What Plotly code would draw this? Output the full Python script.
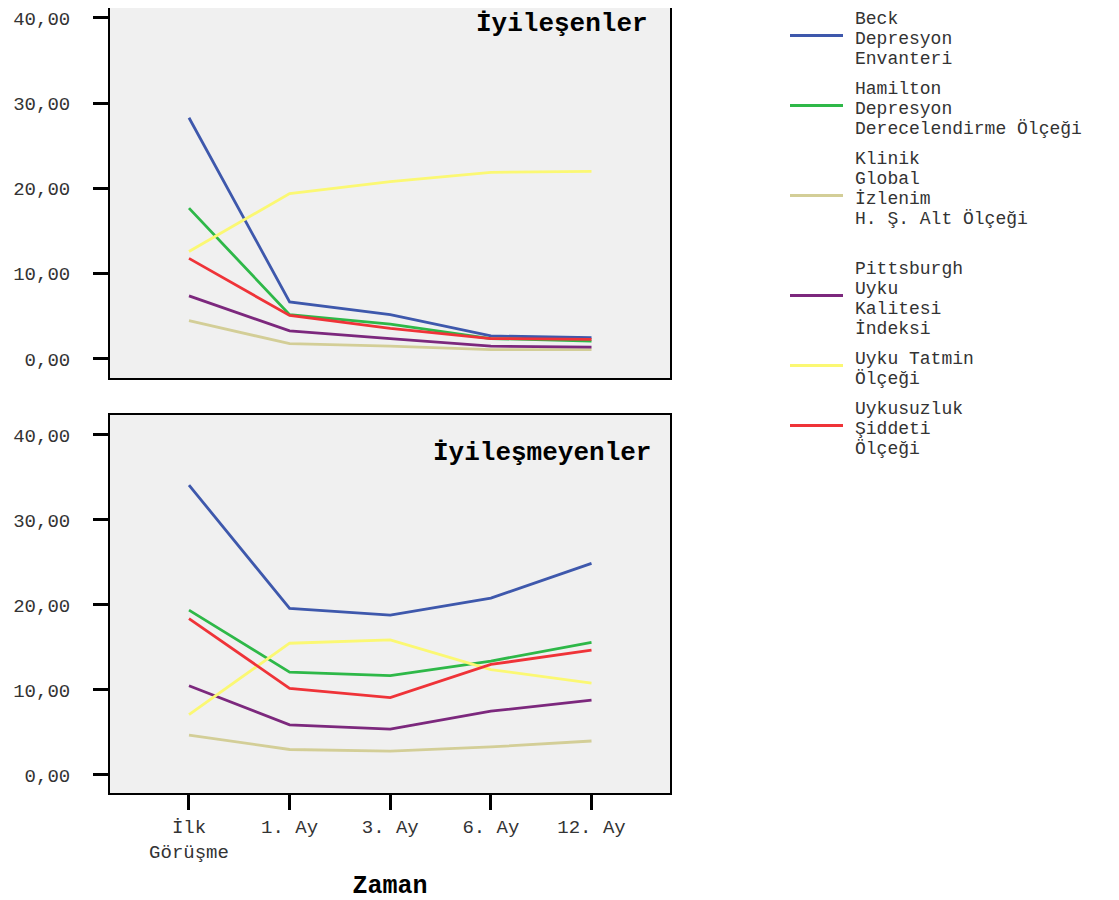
import plotly.graph_objects as go

# ---------------- data ----------------
time_labels = ["İlk<br>Görüşme", "1. Ay", "3. Ay", "6. Ay", "12. Ay"]
categories = ["İlk", "1. Ay", "3. Ay", "6. Ay", "12. Ay"]

series_names = [
    "Beck<br>Depresyon<br>Envanteri",
    "Hamilton<br>Depresyon<br>Derecelendirme Ölçeği",
    "Klinik<br>Global<br>İzlenim<br>H. Ş. Alt Ölçeği<br> ",
    "Pittsburgh<br>Uyku<br>Kalitesi<br>İndeksi",
    "Uyku Tatmin<br>Ölçeği",
    "Uykusuzluk<br>Şiddeti<br>Ölçeği",
]
series_colors = ["#3E58AC", "#2EB848", "#D3CE97", "#7C287D", "#FBF873", "#EF3338"]

# İyileşenler (improved)
improved = [
    [28.3, 6.7, 5.2, 2.7, 2.5],    # Beck
    [17.7, 5.2, 4.1, 2.4, 2.1],    # Hamilton
    [4.5, 1.8, 1.5, 1.1, 1.1],     # Klinik Global
    [7.4, 3.3, 2.4, 1.5, 1.4],     # Pittsburgh
    [12.6, 19.4, 20.8, 21.9, 22.0],  # Uyku Tatmin
    [11.8, 5.1, 3.6, 2.4, 2.3],    # Uykusuzluk
]
# İyileşmeyenler (not improved)
not_improved = [
    [34.1, 19.6, 18.8, 20.8, 24.9],
    [19.4, 12.1, 11.7, 13.4, 15.6],
    [4.7, 3.0, 2.8, 3.3, 4.0],
    [10.5, 5.9, 5.4, 7.5, 8.8],
    [7.1, 15.5, 15.9, 12.4, 10.8],
    [18.4, 10.2, 9.1, 13.0, 14.7],
]
panel_titles = ["İyileşenler", "İyileşmeyenler"]
y_ticks = [0, 10, 20, 30, 40]

# ---------------- figure ----------------
FONT = "Liberation Mono, Courier New, monospace"
W, H = 1119, 900
L, R, T, B = 102, 457, 0, 115
PH = H - T - B  # 785
PW = W - L - R  # 560

fig = go.Figure()

for i, name in enumerate(series_names):
    fig.add_trace(go.Scatter(x=categories, y=improved[i], mode="lines",
                             line=dict(color=series_colors[i], width=2.8),
                             name=name, showlegend=False, xaxis="x", yaxis="y"))
    fig.add_trace(go.Scatter(x=categories, y=not_improved[i], mode="lines",
                             line=dict(color=series_colors[i], width=2.8),
                             name=name, showlegend=False, xaxis="x2", yaxis="y2"))

top_h, bot_top = 370, 407
top_dom = [1 - top_h / PH, 1]
bot_dom = [0, (PH - bot_top) / PH]
xr = [-0.785, 4.78]

common_y = dict(tickvals=y_ticks, tickformat=".2f", ticks="outside",
                ticklen=15, tickwidth=3, tickcolor="black", showline=True,
                linecolor="black", linewidth=2, mirror=True, showgrid=False,
                zeroline=False, automargin=False,
                tickfont=dict(family=FONT, size=19, color="#333"),
                ticklabelstandoff=19)

fig.update_layout(
    width=W, height=H,
    margin=dict(l=L, r=R, t=T, b=B, autoexpand=False),
    paper_bgcolor="white", plot_bgcolor="#F0F0F0",
    separators=",.",
    font=dict(family=FONT, color="#333"),
    xaxis=dict(domain=[0, 1], range=xr, type="category", categoryarray=categories,
               showticklabels=False, ticks="", showline=True, linecolor="black",
               linewidth=2, mirror=True, showgrid=False, anchor="y", automargin=False),
    yaxis=dict(domain=top_dom, anchor="x", range=[-2.23, 41.17], **common_y),
    xaxis2=dict(domain=[0, 1], range=xr, type="category", categoryarray=categories,
                tickvals=categories, ticktext=time_labels, ticks="outside",
                ticklen=15, tickwidth=3, tickcolor="black", showline=True,
                linecolor="black", linewidth=2, mirror=True, showgrid=False,
                anchor="y2", automargin=False,
                tickfont=dict(family=FONT, size=19, color="#333"),
                title=dict(text="<b>Zaman</b>", font=dict(family=FONT, size=25, color="black"),
                           standoff=13)),
    yaxis2=dict(domain=bot_dom, anchor="x2", range=[-2.12, 42.35], **common_y),
)

# panel titles
title_pos = [((642 - L) / PW, 1 - 16 / top_h), ((645 - L) / PW, 1 - 38 / (PH - bot_top))]
for ax, title, (tx, ty) in zip(["", "2"], panel_titles, title_pos):
    fig.add_annotation(text="<b>" + title + "</b>", xref="x%s domain" % ax,
                       yref="y%s domain" % ax, x=tx, y=ty,
                       xanchor="right", yanchor="middle",
                       showarrow=False, font=dict(family=FONT, size=26, color="black"))

# legend (built from series names / colors)
def px_to_py(py):
    return (PH - (py - T)) / PH

def px_to_x(px):
    return (px - L) / PW

y_cursor = 11
for name, color in zip(series_names, series_colors):
    lines = name.split("<br>")
    ys = [y_cursor + 20 * k for k in range(len(lines))]
    for txt, yy in zip(lines, ys):
        if txt.strip():
            fig.add_annotation(text=txt, xref="paper", yref="paper",
                               x=px_to_x(845), y=px_to_py(yy), xanchor="left",
                               yanchor="middle", showarrow=False,
                               font=dict(family=FONT, size=18, color="#333"))
    center = (ys[0] + ys[-1]) / 2 - 3.5
    fig.add_shape(type="line", xref="paper", yref="paper",
                  x0=px_to_x(782), x1=px_to_x(835), y0=px_to_py(center),
                  y1=px_to_py(center), line=dict(color=color, width=3))
    y_cursor = ys[-1] + 30

fig.write_html("out.html")
